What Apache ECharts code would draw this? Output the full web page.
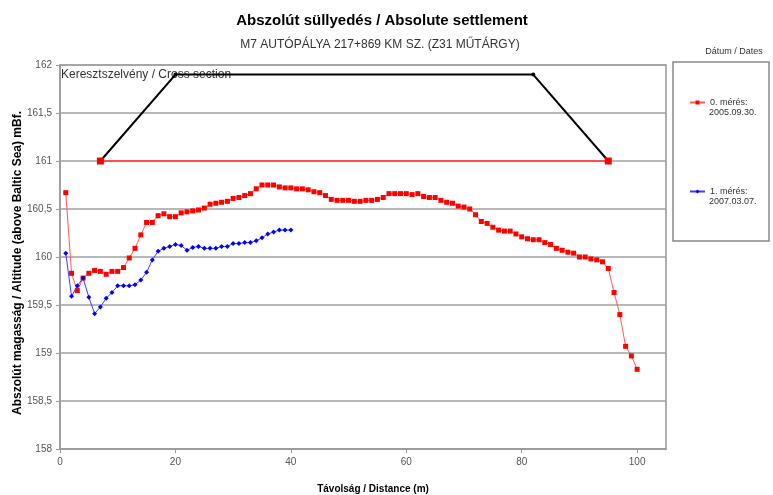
<!DOCTYPE html>
<html>
<head>
<meta charset="utf-8">
<script src="https://cdn.jsdelivr.net/npm/echarts@6/dist/echarts.min.js"></script>
<style>
html,body{margin:0;padding:0;background:#fff;}
#chart{width:773px;height:495px;}
</style>
</head>
<body>
<div id="chart"></div>
<script>
// Measurement 0 (2005.09.30.)
const distance0 = [1,2,3,4,5,6,7,8,9,10,11,12,13,14,15,16,17,18,19,20,21,22,23,24,25,26,27,28,29,30,31,32,33,34,35,36,37,38,39,40,41,42,43,44,45,46,47,48,49,50,51,52,53,54,55,56,57,58,59,60,61,62,63,64,65,66,67,68,69,70,71,72,73,74,75,76,77,78,79,80,81,82,83,84,85,86,87,88,89,90,91,92,93,94,95,96,97,98,99,100];
const altitude0 = [160.67,159.83,159.65,159.78,159.83,159.86,159.85,159.82,159.85,159.85,
  159.89,159.99,160.09,160.23,160.36,160.36,160.43,160.45,160.42,160.42,
  160.46,160.47,160.48,160.49,160.51,160.55,160.56,160.57,160.58,160.61,
  160.62,160.64,160.66,160.71,160.75,160.75,160.75,160.73,160.72,160.72,
  160.71,160.71,160.70,160.68,160.67,160.64,160.60,160.59,160.59,160.59,
  160.58,160.58,160.59,160.59,160.60,160.62,160.66,160.66,160.66,160.66,
  160.65,160.66,160.63,160.62,160.62,160.59,160.57,160.56,160.53,160.52,
  160.50,160.44,160.37,160.35,160.31,160.28,160.27,160.27,160.24,160.21,
  160.19,160.18,160.18,160.15,160.13,160.09,160.07,160.05,160.04,160.00,
  160.00,159.98,159.97,159.95,159.88,159.63,159.40,159.07,158.97,158.83];
// Measurement 1 (2007.03.07.)
const distance1 = [1,2,3,4,5,6,7,8,9,10,11,12,13,14,15,16,17,18,19,20,21,22,23,24,25,26,27,28,29,30,31,32,33,34,35,36,37,38,39,40];
const altitude1 = [160.04,159.59,159.70,159.78,159.58,159.41,159.48,159.57,159.63,159.70,
  159.70,159.70,159.71,159.76,159.84,159.97,160.06,160.09,160.11,160.13,
  160.12,160.07,160.10,160.11,160.09,160.09,160.09,160.11,160.11,160.14,
  160.14,160.15,160.15,160.17,160.20,160.24,160.26,160.28,160.28,160.28];
// Cross section outline
const sectionX = [7,20,82,95];
const sectionY = [161,161.9,161.9,161];
const baseX = [7,95];
const baseY = [161,161];

const seriesNames = ['0. mérés:','1. mérés:'];
const seriesDates = ['2005.09.30.','2007.03.07.'];

function pairs(xs, ys){ return xs.map((x,i)=>[x, ys[i]]); }

const chart = echarts.init(document.getElementById('chart'), null, {renderer:'canvas'});
const FONT = 'Liberation Sans, Arial, sans-serif';
chart.setOption({
  animation:false,
  backgroundColor:'#fff',
  textStyle:{fontFamily:FONT},
  title:[
    {text:'Abszolút süllyedés / Absolute settlement', left:377, top:8, textAlign:'center',
     textStyle:{fontSize:15, fontWeight:'bold', color:'#000', fontFamily:FONT}},
    {text:'M7 AUTÓPÁLYA 217+869 KM SZ. (Z31 MŰTÁRGY)', left:375, top:34, textAlign:'center',
     textStyle:{fontSize:12, fontWeight:'normal', color:'#333', fontFamily:FONT}},
    {text:'Dátum / Dates', left:729, top:42, textAlign:'center',
     textStyle:{fontSize:9, fontWeight:'normal', color:'#333', fontFamily:FONT}}
  ],
  grid:{left:60, right:107, top:65, bottom:46, show:true, borderColor:'#999', borderWidth:1.5,
        outerBoundsMode:'none'},
  legend:{
    orient:'vertical', left:684, top:92, itemGap:78, itemWidth:15, itemHeight:5,
    data:seriesNames,
    textStyle:{fontSize:9, color:'#333', fontFamily:FONT, lineHeight:11}
  },
  graphic:[
    {type:'rect', shape:{x:673, y:62, width:96, height:179},
     style:{fill:'none', stroke:'#888', lineWidth:1.5}},
    {type:'text', left:61, top:69,
     style:{text:'Keresztszelvény / Cross section', fontSize:12, fill:'#333', fontFamily:FONT}},
    {type:'text', left:709, top:108,
     style:{text:seriesDates[0], fontSize:9, fill:'#333', fontFamily:FONT}},
    {type:'text', left:709, top:197,
     style:{text:seriesDates[1], fontSize:9, fill:'#333', fontFamily:FONT}}
  ],
  xAxis:{
    type:'value', min:0, max:105, interval:20,
    name:'Távolság / Distance (m)', nameLocation:'middle', nameGap:35, nameMoveOverlap:false,
    nameTextStyle:{fontSize:10, fontWeight:'bold', color:'#000', fontFamily:FONT, padding:[0,0,0,20]},
    axisLine:{show:true, lineStyle:{color:'#999', width:1.5}},
    axisTick:{show:true, length:4, lineStyle:{color:'#999'}},
    axisLabel:{fontSize:10, color:'#555', margin:8, showMaxLabel:false, fontFamily:FONT},
    splitLine:{show:false}
  },
  yAxis:{
    type:'value', min:158, max:162, interval:0.5,
    name:'Abszolút magasság / Altitude (above Baltic Sea) mBf.', nameLocation:'middle', nameGap:36,
    nameMoveOverlap:false,
    nameTextStyle:{fontSize:12, fontWeight:'bold', color:'#000', fontFamily:FONT, padding:[0,12,0,0]},
    axisLine:{show:true, lineStyle:{color:'#999', width:1.5}},
    axisTick:{show:true, length:4, lineStyle:{color:'#999'}},
    axisLabel:{fontSize:10, color:'#555', margin:8, fontFamily:FONT,
      formatter:v=>String(v).replace('.',',')},
    splitLine:{show:true, lineStyle:{color:'#a0a0a0', width:1.5}}
  },
  series:[
    {name:'base', type:'line', data:pairs(baseX, baseY), symbol:'rect', symbolSize:7,
     lineStyle:{color:'#ff4d4d', width:2}, itemStyle:{color:'#ff0000'}, z:3},
    {name:'section', type:'line', data:pairs(sectionX, sectionY), symbol:'circle', symbolSize:4,
     lineStyle:{color:'#000', width:2}, itemStyle:{color:'#000'}, z:2},
    {name:seriesNames[0], type:'line', data:pairs(distance0, altitude0), symbol:'rect', symbolSize:5,
     lineStyle:{color:'#ff5a5a', width:1}, itemStyle:{color:'#ff0000'}, z:4},
    {name:seriesNames[1], type:'line', data:pairs(distance1, altitude1), symbol:'diamond', symbolSize:5,
     lineStyle:{color:'#3c3cff', width:1}, itemStyle:{color:'#0000ff'}, z:5}
  ]
});
</script>
</body>
</html>
